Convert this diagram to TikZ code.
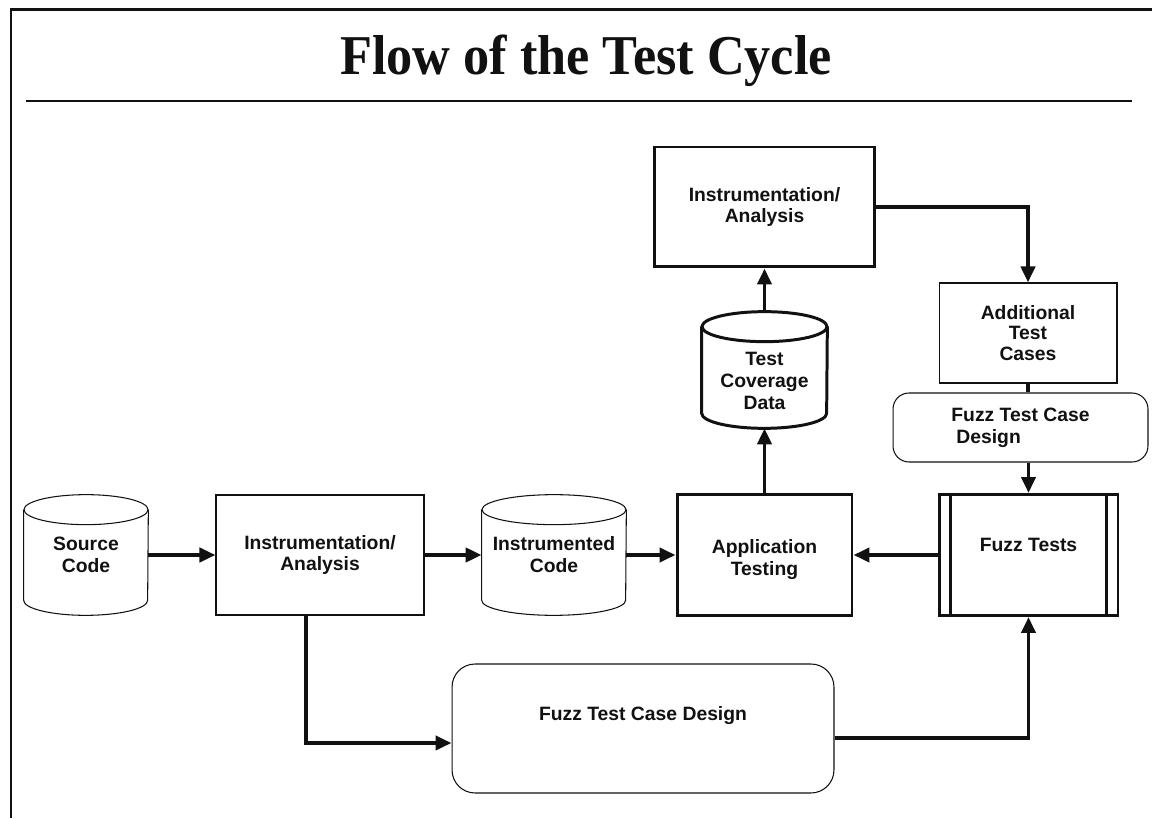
\documentclass[tikz,border=0pt]{standalone}
\usepackage{fontspec}
\setmainfont{Liberation Sans}
\newfontfamily\titlefont{Liberation Serif}
\usetikzlibrary{arrows.meta,calc}
\definecolor{ink}{HTML}{111111}
\tikzset{
  >={Triangle[length=3.2mm,width=2.8mm]},
  every node/.style={font=\fontsize{11}{12.5}\selectfont\bfseries,text=ink},
  title/.style={font=\titlefont\bfseries\fontsize{32}{36}\selectfont,anchor=base},
  box/.style={draw=ink,line width=0.6pt,align=center,inner sep=1pt},
  heavybox/.style={box,line width=1.7pt},
  roundbox/.style={box,rounded corners=0.32cm},
  drum/.style={align=center,inner sep=0pt},
  inlabel/.style={align=center},
  arrow/.style={->,line width=2.2pt,draw=ink},
  link/.style={line width=2.2pt,draw=ink},
  thinline/.style={line width=0.6pt,draw=ink},
  heavyline/.style={line width=1.7pt,draw=ink},
  frame/.style={line width=1.7pt,draw=ink},
}
% cylinder outline round a named node: name, x radius, line style
\newcommand{\drawdrum}[3]{%
  \draw[#3] ($(#1.north west)+(0,-15)$) -- ($(#1.south west)+(0,15)$)
    arc[start angle=180,end angle=360,x radius=#2,y radius=0.3cm]
    -- ($(#1.north east)+(0,-15)$);
  \draw[#3] ($(#1.north)+(0,-15)$) ellipse[x radius=#2,y radius=0.3cm];
}

\begin{document}
\begin{tikzpicture}[x=0.02cm,y=0.02cm]
  \useasboundingbox (0,0) rectangle (1152,818);
  \draw[frame] (11,0) -- (11,808) -- (1152,808);
  \node[title] (title) at (586,743) {\scalebox{0.93}[1]{Flow of the Test Cycle}};
  \draw[line width=1.2pt,draw=ink] (26,717) -- (1132,717);

  % main row
  \node[drum,minimum width=2.48cm,minimum height=2.40cm] (src) at (86,263) {Source\\Code};
  \node[box,minimum width=4.16cm,minimum height=2.40cm] (instrA) at (320,263) {Instrumentation/\\Analysis};
  \node[drum,minimum width=2.88cm,minimum height=2.40cm] (instrcode) at (554,263) {Instrumented\\Code};
  \node[heavybox,minimum width=3.50cm,minimum height=2.42cm,
    label={[inlabel,yshift=-0.1cm]center:Application\\Testing}] (app) at (764.5,263) {};
  \node[heavybox,minimum width=3.58cm,minimum height=2.42cm,
    label={[inlabel,yshift=0.2cm]center:Fuzz Tests}] (fuzz) at (1028.5,263) {};
  \drawdrum{src}{1.24cm}{thinline}
  \drawdrum{instrcode}{1.44cm}{thinline}
  \draw[heavyline] ($(fuzz.north west)+(13,0)$) -- ($(fuzz.south west)+(13,0)$);
  \draw[heavyline] ($(fuzz.north east)+(-13,0)$) -- ($(fuzz.south east)+(-13,0)$);

  % upper column
  \node[drum,minimum width=2.50cm,minimum height=2.32cm,
    label={[inlabel,yshift=-0.22cm]center:Test\\Coverage\\Data}] (tcd) at (764.5,448) {};
  \drawdrum{tcd}{1.25cm}{heavyline}
  \node[heavybox,minimum width=4.42cm,minimum height=2.40cm] (instrB) at (764.5,611) {Instrumentation/\\Analysis};
  \node[box,minimum width=3.56cm,minimum height=2.00cm,
    font=\fontsize{11}{11.5}\selectfont\bfseries] (addl) at (1028,485) {Additional\\Test\\Cases};
  \node[roundbox,align=left,minimum width=5.10cm,minimum height=1.38cm] (smalldesign) at (1020.5,390.5) {Fuzz Test Case\\\hspace*{1mm}Design};
  \node[roundbox,rounded corners=0.46cm,minimum width=7.64cm,minimum height=2.58cm,
    label={[inlabel,yshift=0.26cm]center:Fuzz Test Case Design}] (design) at (643,89.5) {};

  \draw[arrow] (src) -- (instrA);
  \draw[arrow] (instrA) -- (instrcode);
  \draw[arrow] (instrcode) -- (app);
  \draw[arrow] (fuzz) -- (app);
  \draw[arrow] (app) -- (tcd);
  \draw[arrow] (tcd) -- (instrB);
  \draw[arrow] (instrB.east) -| (addl.north);
  \draw[link] (addl.south) -- (addl.south |- smalldesign.north);
  \draw[arrow] (smalldesign.south -| fuzz.north) -- (fuzz.north);
  \draw[arrow] ($(instrA.south)+(-14,0)$) |- ($(design.west)+(0,-14.5)$);
  \draw[arrow] ($(design.east)+(0,-9.5)$) -| (fuzz.south);
\end{tikzpicture}
\end{document}
